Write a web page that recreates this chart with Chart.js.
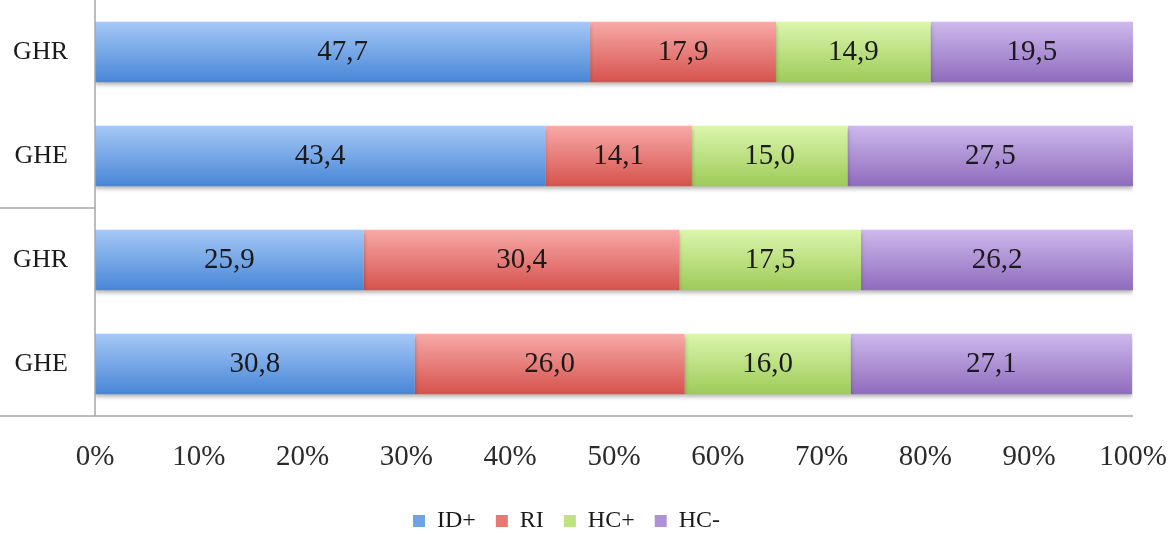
<!DOCTYPE html>
<html>
<head>
<meta charset="utf-8">
<script src="https://cdn.jsdelivr.net/npm/chart.js@4/dist/chart.umd.min.js"></script>
<style>
  html, body { margin: 0; padding: 0; background: #fff; }
  #wrap { width: 1176px; height: 534px; position: relative; }
</style>
</head>
<body>
<div id="wrap"><canvas id="c"></canvas></div>
<script>
// Groups (top to bottom) and the share of each response type, in percent
const categories = ['GHR', 'GHE', 'GHR', 'GHE'];
const seriesNames = ['ID+', 'RI', 'HC+', 'HC-'];
const idPlus = [47.7, 43.4, 25.9, 30.8];
const ri     = [17.9, 14.1, 30.4, 26.0];
const hcPlus = [14.9, 15.0, 17.5, 16.0];
const hcMinus = [19.5, 27.5, 26.2, 27.1];
const tickValues = [0, 10, 20, 30, 40, 50, 60, 70, 80, 90, 100];

// top / bottom shades of each segment's vertical gradient, plus a legend swatch
const shades = [
  ['#a6c8f7', '#4786d6', '#6fa3e6'],
  ['#f7aaa7', '#d6524d', '#e87873'],
  ['#dcf5ad', '#9dcb58', '#bfe283'],
  ['#cdb9ec', '#8f6bbd', '#ad92d6']
];

const serif = '"Liberation Serif", "DejaVu Serif", serif';

function gradientFill(index) {
  return function (ctx) {
    const chart = ctx.chart;
    const yScale = chart.scales.y;
    if (!chart.chartArea || !yScale) return shades[index][1];
    const centre = yScale.getPixelForValue(ctx.dataIndex);
    const half = (yScale.height / categories.length) * 0.58 / 2;
    const g = chart.ctx.createLinearGradient(0, centre - half, 0, centre + half);
    g.addColorStop(0, shades[index][0]);
    g.addColorStop(1, shades[index][1]);
    return g;
  };
}

const seriesData = [idPlus, ri, hcPlus, hcMinus];
const datasets = seriesNames.map((name, i) => ({
  label: name,
  data: seriesData[i],
  backgroundColor: gradientFill(i),
  borderWidth: 0,
  barPercentage: 0.58,
  categoryPercentage: 1
}));

// soft shadow under the bars
const barShadow = {
  id: 'barShadow',
  beforeDatasetsDraw(chart) {
    const c = chart.ctx;
    c.save();
    c.shadowColor = 'rgba(0,0,0,0.28)';
    c.shadowBlur = 4;
    c.shadowOffsetY = 3;
  },
  afterDatasetsDraw(chart) {
    chart.ctx.restore();
  }
};

// axis lines, the group divider and the value written in each segment
const decorations = {
  id: 'decorations',
  afterDraw(chart) {
    const c = chart.ctx;
    const area = chart.chartArea;
    const yScale = chart.scales.y;
    c.save();
    c.strokeStyle = '#a6a6a6';
    c.lineWidth = 1.5;
    c.beginPath();
    c.moveTo(area.left, 0);
    c.lineTo(area.left, area.bottom);
    c.moveTo(0, area.bottom);
    c.lineTo(area.right, area.bottom);
    const divider = Math.round(yScale.getPixelForValue(1.5));
    c.moveTo(0, divider);
    c.lineTo(area.left, divider);
    c.stroke();

    c.fillStyle = '#1a1a1a';
    c.font = '29px ' + serif;
    c.textAlign = 'center';
    c.textBaseline = 'middle';
    chart.data.datasets.forEach((ds, di) => {
      const meta = chart.getDatasetMeta(di);
      meta.data.forEach((bar, i) => {
        const x = (bar.x + bar.base) / 2;
        c.fillText(ds.data[i].toFixed(1).replace('.', ','), x, bar.y);
      });
    });
    c.restore();
  }
};

new Chart(document.getElementById('c'), {
  type: 'bar',
  data: { labels: categories, datasets },
  options: {
    indexAxis: 'y',
    responsive: true,
    maintainAspectRatio: false,
    animation: false,
    layout: { padding: { top: 0, right: 43, left: 0, bottom: -9 } },
    scales: {
      x: {
        stacked: true,
        min: 0,
        max: 100,
        afterBuildTicks(scale) {
          scale.ticks = tickValues.map(v => ({ value: v }));
        },
        afterFit(scale) {
          scale.height = 73;
          scale.paddingLeft = 0;
          scale.paddingRight = 0;
        },
        grid: { display: false, drawTicks: false },
        border: { display: false },
        ticks: {
          padding: 24,
          color: '#2b2b2b',
          font: { family: serif, size: 29 },
          callback: v => v + '%'
        }
      },
      y: {
        stacked: true,
        afterFit(scale) {
          scale.width = 95;
          scale.paddingTop = 0;
          scale.paddingBottom = 0;
        },
        grid: { display: false, drawTicks: false },
        border: { display: false },
        ticks: {
          padding: 27,
          color: '#1a1a1a',
          font: { family: serif, size: 26 }
        }
      }
    },
    plugins: {
      legend: {
        position: 'bottom',
        labels: {
          boxWidth: 12,
          boxHeight: 12,
          padding: 20,
          color: '#1a1a1a',
          font: { family: serif, size: 24 },
          generateLabels(chart) {
            return chart.data.datasets.map((ds, i) => ({
              text: ds.label,
              fillStyle: shades[i][2],
              strokeStyle: shades[i][2],
              lineWidth: 0,
              hidden: false,
              datasetIndex: i,
              fontColor: '#1a1a1a'
            }));
          }
        }
      },
      tooltip: { enabled: false }
    }
  },
  plugins: [barShadow, decorations]
});
</script>
</body>
</html>
